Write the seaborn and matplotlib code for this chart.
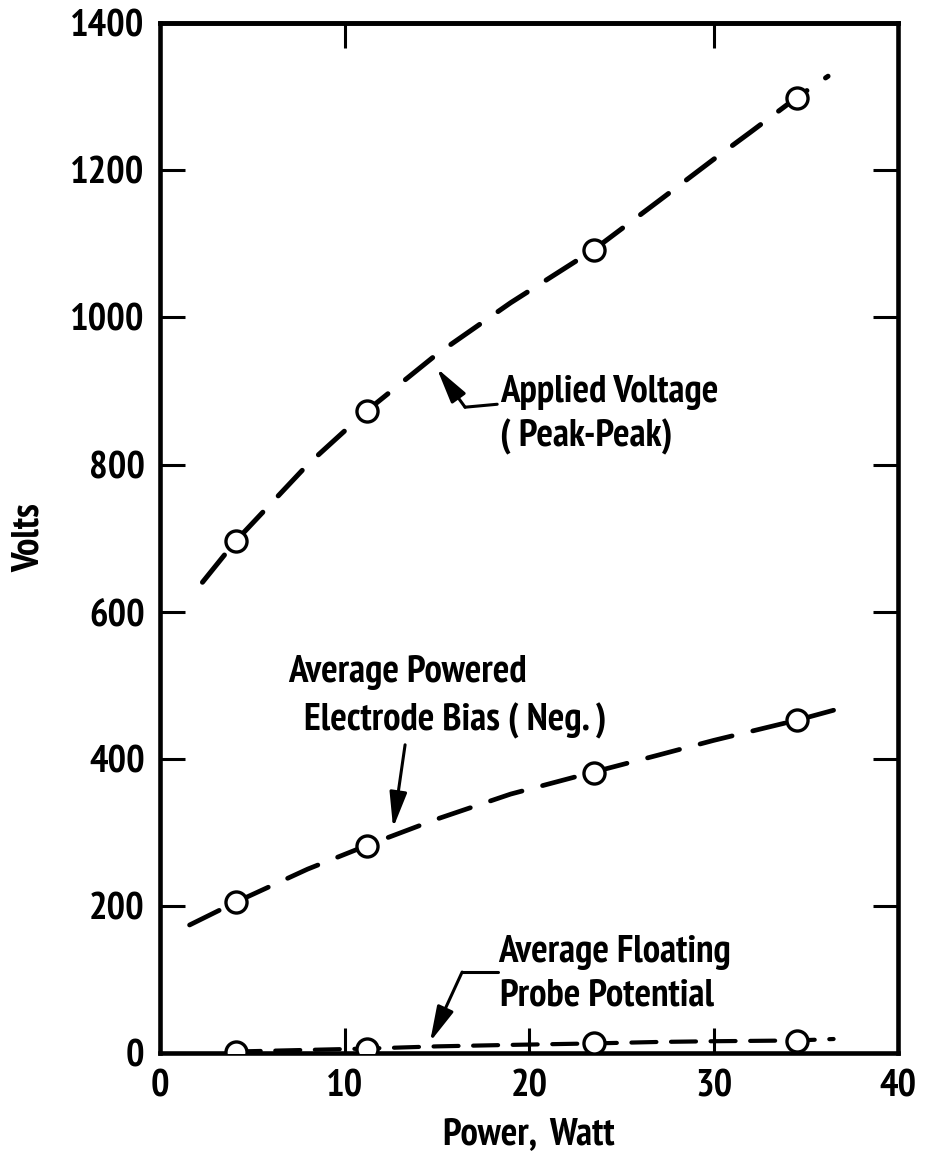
import matplotlib
matplotlib.use("Agg")
import matplotlib.pyplot as plt
import seaborn as sns

# ---- measured points (power in W, potential in V) ----
power = [4.1, 11.2, 23.5, 34.5]
applied_pp = [696, 873, 1092, 1299]
bias_neg = [205, 281, 381, 453]
floating = [2, 6, 13, 16]

# hand-drawn trend curves through the points
applied_curve_x = [2.3, 4.1, 8, 11.2, 15, 19, 23.5, 27, 30, 32, 34.5, 36.2]
applied_curve_y = [640, 696, 800, 873, 950, 1020, 1092, 1158, 1215, 1252, 1299, 1328]
bias_curve_x = [1.6, 4.1, 8, 11.2, 15, 19, 23.5, 27, 30, 34.6, 36.5]
bias_curve_y = [174, 205, 250, 282, 318, 352, 382, 405, 425, 453, 466]
float_curve_x = [4.1, 11.2, 15, 19, 23.5, 27, 30, 34.5, 36.5]
float_curve_y = [2, 6, 9, 11, 13, 15, 16, 17, 19]

x_ticks = [0, 10, 20, 30, 40]
y_ticks = [0, 200, 400, 600, 800, 1000, 1200, 1400]

sns.set_style("ticks")
plt.rcParams["font.family"] = ["PT Sans Narrow", "DejaVu Sans"]
plt.rcParams["font.size"] = 28
plt.rcParams["font.weight"] = "bold"
plt.rcParams["text.color"] = "black"
plt.rcParams["axes.labelcolor"] = "black"
plt.rcParams["xtick.color"] = "black"
plt.rcParams["ytick.color"] = "black"

fig = plt.figure(figsize=(9.25, 11.57), dpi=100)
ax = fig.add_axes([0.173, 0.0899, 0.798, 0.890])

dash_long = (0, (7, 4.5))
sns.lineplot(x=applied_curve_x, y=applied_curve_y, ax=ax, color="black", lw=3.6,
             linestyle=dash_long, dash_capstyle="round", sort=False, zorder=2)
sns.lineplot(x=bias_curve_x, y=bias_curve_y, ax=ax, color="black", lw=3.4,
             linestyle=dash_long, dash_capstyle="round", sort=False, zorder=2)
sns.lineplot(x=float_curve_x, y=float_curve_y, ax=ax, color="black", lw=3.0,
             linestyle=(0, (6, 3.5)), dash_capstyle="round", sort=False, zorder=2)

for ys in (applied_pp, bias_neg, floating):
    sns.scatterplot(x=power, y=ys, ax=ax, marker="o", s=230, facecolor="white",
                    edgecolor="black", linewidth=2.4, zorder=4)

ax.set_xlim(0, 40)
ax.set_ylim(0, 1400)
ax.set_xticks(x_ticks)
ax.set_yticks(y_ticks)
ax.set_xticklabels([str(v) for v in x_ticks], fontweight="bold")
ax.set_yticklabels([str(v) for v in y_ticks], fontweight="bold")
ax.tick_params(direction="in", length=18, width=2.2, right=True, top=False,
               labelsize=28, colors="black")
ax.tick_params(axis="y", pad=11)
ax.tick_params(axis="x", pad=12)

top = ax.secondary_xaxis("top")
top.set_xticks([10, 30])
top.tick_params(direction="in", length=18, width=2.2, labeltop=False)

for sp in list(ax.spines.values()) + [top.spines["top"]]:
    sp.set_linewidth(3.3)
    sp.set_color("black")
    sp.set_visible(True)

ax.set_xlabel("Power,  Watt", fontsize=28, fontweight="bold", color="black", labelpad=9)
ax.set_ylabel("Volts", fontsize=28, fontweight="bold", color="black", labelpad=17)

# ---- curve labels with leader arrows ----
txt = dict(fontsize=28, fontweight="bold", va="baseline", color="black")
ax.text(18.43, 885, "Applied Voltage", ha="left", **txt)
ax.text(18.43, 824, "( Peak-Peak)", ha="left", **txt)
ax.text(6.94, 504, "Average Powered", ha="left", **txt)
ax.text(24.2, 439, "Electrode Bias ( Neg. )", ha="right", **txt)
ax.text(18.33, 124, "Average Floating", ha="left", **txt)
ax.text(18.43, 65, "Probe Potential", ha="left", **txt)

arrow = dict(arrowstyle="-|>,head_length=0.9,head_width=0.22", lw=2.2,
             color="black", mutation_scale=24, shrinkA=0, shrinkB=0)
ax.plot([18.27, 16.53], [882, 878], color="black", lw=2.2)
ax.annotate("", xy=(15.0, 931), xytext=(16.53, 878), arrowprops=arrow)
ax.annotate("", xy=(12.63, 306), xytext=(13.28, 419), arrowprops=arrow)
ax.plot([18.32, 16.37], [110, 110], color="black", lw=2.2)
ax.annotate("", xy=(14.63, 15), xytext=(16.37, 110), arrowprops=arrow)

fig.savefig("out.png", dpi=100)
